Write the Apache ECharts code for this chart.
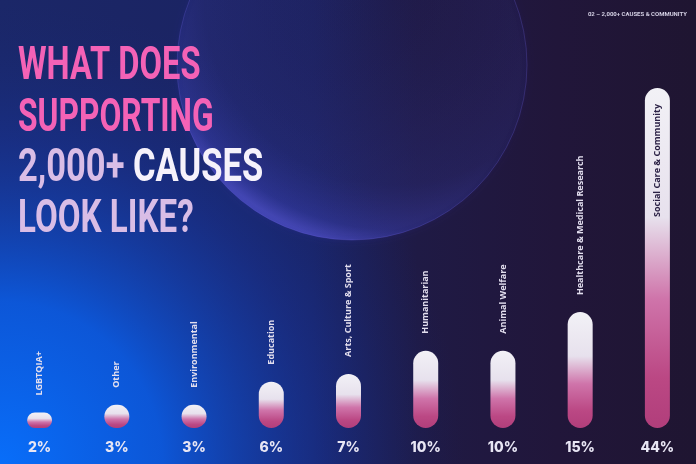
<!DOCTYPE html>
<html>
<head>
<meta charset="utf-8">
<script src="https://cdn.jsdelivr.net/npm/echarts@6/dist/echarts.min.js"></script>
<style>html,body{margin:0;padding:0;background:#1b2060;}#c{width:696px;height:464px;}</style>
</head>
<body>
<div id="c"></div>
<script>
// ---- data ----
const categories = ['LGBTQIA+', 'Other', 'Environmental', 'Education', 'Arts, Culture & Sport', 'Humanitarian', 'Animal Welfare', 'Healthcare & Medical Research', 'Social Care & Community'];
const values = [2, 3, 3, 6, 7, 10, 10, 15, 44];
const titleLines = ['WHAT DOES', 'SUPPORTING', '2,000+', 'CAUSES', 'LOOK LIKE?'];
const headerText = '02 – 2,000+ CAUSES & COMMUNITY';

const chart = echarts.init(document.getElementById('c'), null, {renderer: 'canvas'});
const lastIdx = values.length - 1;

const barGradient = new echarts.graphic.LinearGradient(0, 0, 0, 1, [
  {offset: 0, color: '#f2f1f6'},
  {offset: 0.38, color: '#e7e1ed'},
  {offset: 0.62, color: '#cf74aa'},
  {offset: 0.85, color: '#bb4884'},
  {offset: 1, color: '#b13e7b'}
]);

const titleFont = 'Roboto';
const tf = 'bold 46px ' + titleFont;

const option = {
  backgroundColor: 'transparent',
  animation: false,
  graphic: [
    // background base
    {type: 'rect', z: -10, silent: true, shape: {x: 0, y: 0, width: 696, height: 464},
      style: {fill: new echarts.graphic.LinearGradient(0, 0, 1, 0, [
        {offset: 0, color: '#1b2768'},
        {offset: 0.45, color: '#1b2260'},
        {offset: 0.6, color: '#1f1a45'},
        {offset: 0.8, color: '#21163a'},
        {offset: 1, color: '#1f1531'}
      ])}},
    // blue glow bottom-left
    {type: 'rect', z: -9, silent: true, shape: {x: 0, y: 0, width: 696, height: 464},
      style: {fill: new echarts.graphic.RadialGradient(0.0, 1.0, 1.0, [
        {offset: 0, color: 'rgba(8,110,250,1)'},
        {offset: 0.35, color: 'rgba(10,95,235,0.85)'},
        {offset: 0.7, color: 'rgba(20,60,180,0.35)'},
        {offset: 1, color: 'rgba(20,40,120,0)'}
      ])}},
    // sphere
    {type: 'circle', z: -8, silent: true, shape: {cx: 352, cy: 65, r: 175},
      style: {
        fill: new echarts.graphic.RadialGradient(0.62, 0.3, 0.72, [
          {offset: 0, color: 'rgba(25,20,60,0.15)'},
          {offset: 0.75, color: 'rgba(38,42,115,0.3)'},
          {offset: 0.93, color: 'rgba(55,60,165,0.45)'},
          {offset: 1, color: 'rgba(90,88,215,0.6)'}
        ]),
        stroke: 'rgba(110,100,230,0.25)', lineWidth: 1,
        shadowBlur: 8, shadowColor: 'rgba(80,70,200,0.3)'
      }},
    // header
    {type: 'text', z: 10, silent: true, x: 687, y: 14,
      style: {text: headerText, fill: '#d4d0e4', font: 'bold 6px Roboto', align: 'right', verticalAlign: 'middle'}},
    // title lines
    {type: 'text', z: 10, silent: true, x: 18, y: 67, scaleX: 0.71,
      style: {text: titleLines[0], fill: '#f462b6', font: tf, verticalAlign: 'middle'}},
    {type: 'text', z: 10, silent: true, x: 18, y: 119, scaleX: 0.69,
      style: {text: titleLines[1], fill: '#f462b6', font: tf, verticalAlign: 'middle'}},
    {type: 'text', z: 10, silent: true, x: 18, y: 169, scaleX: 0.75,
      style: {text: '{a|' + titleLines[2] + ' }{b|' + titleLines[3] + '}', verticalAlign: 'middle',
        rich: {
          a: {fill: '#d9bde6', font: tf},
          b: {fill: '#f6f2fb', font: tf}
        }}},
    {type: 'text', z: 10, silent: true, x: 18, y: 220, scaleX: 0.72,
      style: {text: titleLines[4], fill: '#d9bde6', font: tf, verticalAlign: 'middle'}}
  ],
  grid: {left: 1, right: -6, top: 88, bottom: 36, containLabel: false},
  xAxis: {
    type: 'category',
    data: categories,
    axisLine: {show: false},
    axisTick: {show: false},
    splitLine: {show: false},
    axisLabel: {
      interval: 0,
      margin: 13,
      color: '#e8e6f4',
      fontFamily: 'Inter',
      fontWeight: 800,
      fontSize: 14,
      formatter: function (v, i) { return values[i] + '%'; }
    }
  },
  yAxis: {type: 'value', min: 0, max: 44, show: false, splitLine: {show: false}},
  series: [{
    type: 'bar',
    barWidth: 25,
    data: values.map(function (v, i) {
      const item = {value: v};
      if (i === lastIdx) {
        item.label = {position: 'insideTop', align: 'right', verticalAlign: 'middle', distance: 16, color: '#2b2145'};
      }
      return item;
    }),
    itemStyle: {color: barGradient, borderRadius: 12.5},
    label: {
      show: true,
      position: 'top',
      rotate: 90,
      align: 'left',
      verticalAlign: 'middle',
      distance: 17,
      color: '#e2deee',
      fontFamily: 'Open Sans',
      fontWeight: 700,
      fontSize: 9,
      formatter: function (p) { return p.name; }
    }
  }]
};
chart.setOption(option);
</script>
</body>
</html>
